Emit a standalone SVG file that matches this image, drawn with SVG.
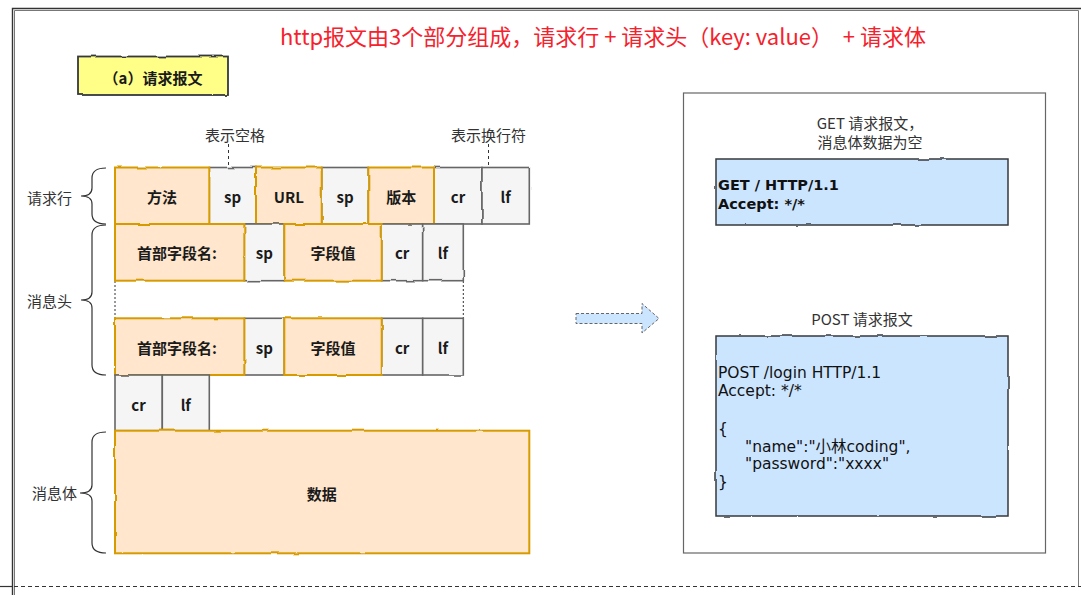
<svg xmlns="http://www.w3.org/2000/svg" width="1081" height="595" viewBox="0 0 1081 595">
  <defs>
    <!-- slight wobble for the sketch-style boxes -->
    <filter id="rough" filterUnits="userSpaceOnUse" x="0" y="0" width="1081" height="595">
      <feTurbulence type="fractalNoise" baseFrequency="0.045" numOctaves="2" seed="7" result="noise"/>
      <feDisplacementMap in="SourceGraphic" in2="noise" scale="2.4" xChannelSelector="R" yChannelSelector="G"/>
    </filter>
    <style>
      .frame-outer { fill: none; stroke: #333; stroke-width: 1.4; }
      .frame-inner { fill: none; stroke: #777; stroke-width: 1; }
      .hdr { fill: #ffe6cc; stroke: #d79b00; stroke-width: 2; }
      .gap { fill: #f5f5f5; stroke: #666; stroke-width: 1.6; }
      .note { fill: #cce5ff; stroke: #36393d; stroke-width: 1.5; }
      .tag { fill: #ffff88; stroke: #36393d; stroke-width: 1.8; }
      .panel { fill: #fff; stroke: #666; stroke-width: 1.2; }
      .brace { fill: none; stroke: #333; stroke-width: 1.2; }
      .guide { stroke: #333; stroke-width: 1; stroke-dasharray: 3 3; fill: none; }
      .dots { stroke: #333; stroke-width: 1; stroke-dasharray: 2 2; fill: none; }
      .cell-t { font-family: "Noto Sans CJK SC", "Noto Sans", sans-serif; font-size: 15px; font-weight: bold; fill: #1a1a1a; text-anchor: middle; dominant-baseline: central; }
      .lbl { font-family: "Noto Sans CJK SC", "Noto Sans", sans-serif; font-size: 15px; fill: #333; text-anchor: middle; dominant-baseline: central; }
      .code { font-family: "DejaVu Sans", "Noto Sans CJK SC", sans-serif; fill: #111; dominant-baseline: central; }
      .title { font-family: "Noto Sans CJK SC", "Noto Sans", sans-serif; font-size: 22px; fill: #f5222d; text-anchor: middle; dominant-baseline: central; }
    </style>
  </defs>

  <rect width="1081" height="595" fill="#fff"/>

  <!-- page frame -->
  <g id="page-frame">
    <path class="frame-outer" d="M12.5,595 V8.5 H1081"/>
    <path class="frame-inner" d="M14.5,595 V10.5 H1078.5 V586"/>
    <line x1="0" y1="586.5" x2="12" y2="586.5" stroke="#333" stroke-width="1.2"/>
    <line x1="14" y1="586.5" x2="1081" y2="586.5" stroke="#333" stroke-width="1" stroke-dasharray="4 3"/>
  </g>

  <!-- heading -->
  <text class="title" x="603" y="35" xml:space="preserve">http报文由3个部分组成，请求行 + 请求头（key: value）  + 请求体</text>

  <!-- caption tag -->
  <g id="tag-request">
    <rect class="tag" x="78" y="56.5" width="150" height="38.5" filter="url(#rough)"/>
    <text class="cell-t" x="153" y="77" font-size="14">（a）请求报文</text>
  </g>

  <!-- annotations -->
  <g id="note-space">
    <text class="lbl" x="235" y="134">表示空格</text>
  </g>
  <g id="note-newline">
    <text class="lbl" x="488.5" y="134">表示换行符</text>
  </g>

  <!-- connectors: annotation leaders, header continuation, arrow -->
  <g id="connectors">
    <line class="guide" x1="228.5" y1="144" x2="228.5" y2="167"/>
    <line class="guide" x1="488.5" y1="144" x2="488.5" y2="167"/>
    <line class="dots" x1="115" y1="281" x2="115" y2="318"/>
    <line class="dots" x1="463.3" y1="281" x2="463.3" y2="318"/>
    <path d="M576,313.5 H642 V303.5 L659,318.5 L642,333 V323.5 H576 Z" fill="#cce5ff" stroke="#666" stroke-width="1" stroke-dasharray="3 2"/>
  </g>

  <!-- section braces -->
  <g id="brace-request-line">
    <path class="brace" d="M106,168 Q92,168 92,178 L92,188 Q92,196 81,196 Q92,196 92,204 L92,214 Q92,224 106,224"/>
    <text class="lbl" x="49.5" y="197">请求行</text>
  </g>
  <g id="brace-headers">
    <path class="brace" d="M106,225 Q92,225 92,235 L92,292 Q92,300 81,300 Q92,300 92,308 L92,365 Q92,375 106,375"/>
    <text class="lbl" x="49.5" y="300">消息头</text>
  </g>
  <g id="brace-body">
    <path class="brace" d="M106,432 Q92,432 92,442 L92,485 Q92,493 80,493 Q92,493 92,501 L92,543 Q92,553 106,553"/>
    <text class="lbl" x="54.5" y="492">消息体</text>
  </g>

  <!-- request line -->
  <g id="request-line">
    <g filter="url(#rough)">
      <rect class="gap" x="209.3" y="167.5" width="46.7" height="56.5"/>
      <rect class="gap" x="321.7" y="167.5" width="46.6" height="56.5"/>
      <rect class="gap" x="434" y="167.5" width="48" height="56.5"/>
      <rect class="gap" x="482" y="167.5" width="47.3" height="56.5"/>
      <rect class="hdr" x="115" y="167.5" width="94.3" height="56.5"/>
      <rect class="hdr" x="256" y="167.5" width="65.7" height="56.5"/>
      <rect class="hdr" x="368.3" y="167.5" width="65.7" height="56.5"/>
    </g>
    <text class="cell-t" x="162" y="196">方法</text>
    <text class="cell-t" x="232.6" y="196">sp</text>
    <text class="cell-t" x="288.8" y="196">URL</text>
    <text class="cell-t" x="345" y="196">sp</text>
    <text class="cell-t" x="401.2" y="196">版本</text>
    <text class="cell-t" x="458" y="196">cr</text>
    <text class="cell-t" x="505.6" y="196">lf</text>
  </g>

  <!-- header line 1 -->
  <g id="header-line-1">
    <g filter="url(#rough)">
      <rect class="gap" x="244.3" y="224" width="40" height="56.7"/>
      <rect class="gap" x="381.7" y="224" width="41" height="56.7"/>
      <rect class="gap" x="422.7" y="224" width="40.6" height="56.7"/>
      <rect class="hdr" x="115" y="224" width="129.3" height="56.7"/>
      <rect class="hdr" x="284.3" y="224" width="97.4" height="56.7"/>
    </g>
    <text class="cell-t" x="177" y="252.5">首部字段名:</text>
    <text class="cell-t" x="264.3" y="252.5">sp</text>
    <text class="cell-t" x="333" y="252.5">字段值</text>
    <text class="cell-t" x="402.2" y="252.5">cr</text>
    <text class="cell-t" x="443" y="252.5">lf</text>
  </g>

  <!-- header line n -->
  <g id="header-line-n">
    <g filter="url(#rough)">
      <rect class="gap" x="244.3" y="318.3" width="40" height="56.7"/>
      <rect class="gap" x="381.7" y="318.3" width="41" height="56.7"/>
      <rect class="gap" x="422.7" y="318.3" width="40.6" height="56.7"/>
      <rect class="hdr" x="115" y="318.3" width="129.3" height="56.7"/>
      <rect class="hdr" x="284.3" y="318.3" width="97.4" height="56.7"/>
    </g>
    <text class="cell-t" x="177" y="347">首部字段名:</text>
    <text class="cell-t" x="264.3" y="347">sp</text>
    <text class="cell-t" x="333" y="347">字段值</text>
    <text class="cell-t" x="402.2" y="347">cr</text>
    <text class="cell-t" x="443" y="347">lf</text>
  </g>

  <!-- blank line -->
  <g id="blank-line">
    <g filter="url(#rough)">
      <rect class="gap" x="115" y="375" width="47.3" height="55.7"/>
      <rect class="gap" x="162.3" y="375" width="47" height="55.7"/>
    </g>
    <text class="cell-t" x="138.6" y="404">cr</text>
    <text class="cell-t" x="185.8" y="404">lf</text>
  </g>

  <!-- body -->
  <g id="body-data">
    <rect class="hdr" x="115" y="430.7" width="414.3" height="122.6" filter="url(#rough)"/>
    <text class="cell-t" x="321.7" y="493">数据</text>
  </g>

  <!-- examples panel -->
  <g id="examples-panel">
    <rect class="panel" x="683.5" y="93" width="362" height="460"/>
  </g>

  <g id="get-example">
    <text class="lbl" x="870" y="122" fill="#222">GET 请求报文，</text>
    <text class="lbl" x="870" y="141" fill="#222">消息体数据为空</text>
    <rect class="note" x="716" y="159" width="292" height="66" filter="url(#rough)"/>
    <text class="code" x="718" y="185" font-size="14.5" font-weight="bold">GET / HTTP/1.1</text>
    <text class="code" x="718" y="204" font-size="14.5" font-weight="bold">Accept: */*</text>
  </g>

  <g id="post-example">
    <text class="lbl" x="862" y="318.5" fill="#222">POST 请求报文</text>
    <rect class="note" x="716" y="336" width="292" height="180" filter="url(#rough)"/>
    <text class="code" x="718" y="373" font-size="15.5">POST /login HTTP/1.1</text>
    <text class="code" x="718" y="391" font-size="15.5">Accept: */*</text>
    <text class="code" x="718" y="429" font-size="15.5">{</text>
    <text class="code" x="745" y="447" font-size="15.5">"name":"小林coding",</text>
    <text class="code" x="745" y="464" font-size="15.5">"password":"xxxx"</text>
    <text class="code" x="718" y="482" font-size="15.5">}</text>
  </g>
</svg>
